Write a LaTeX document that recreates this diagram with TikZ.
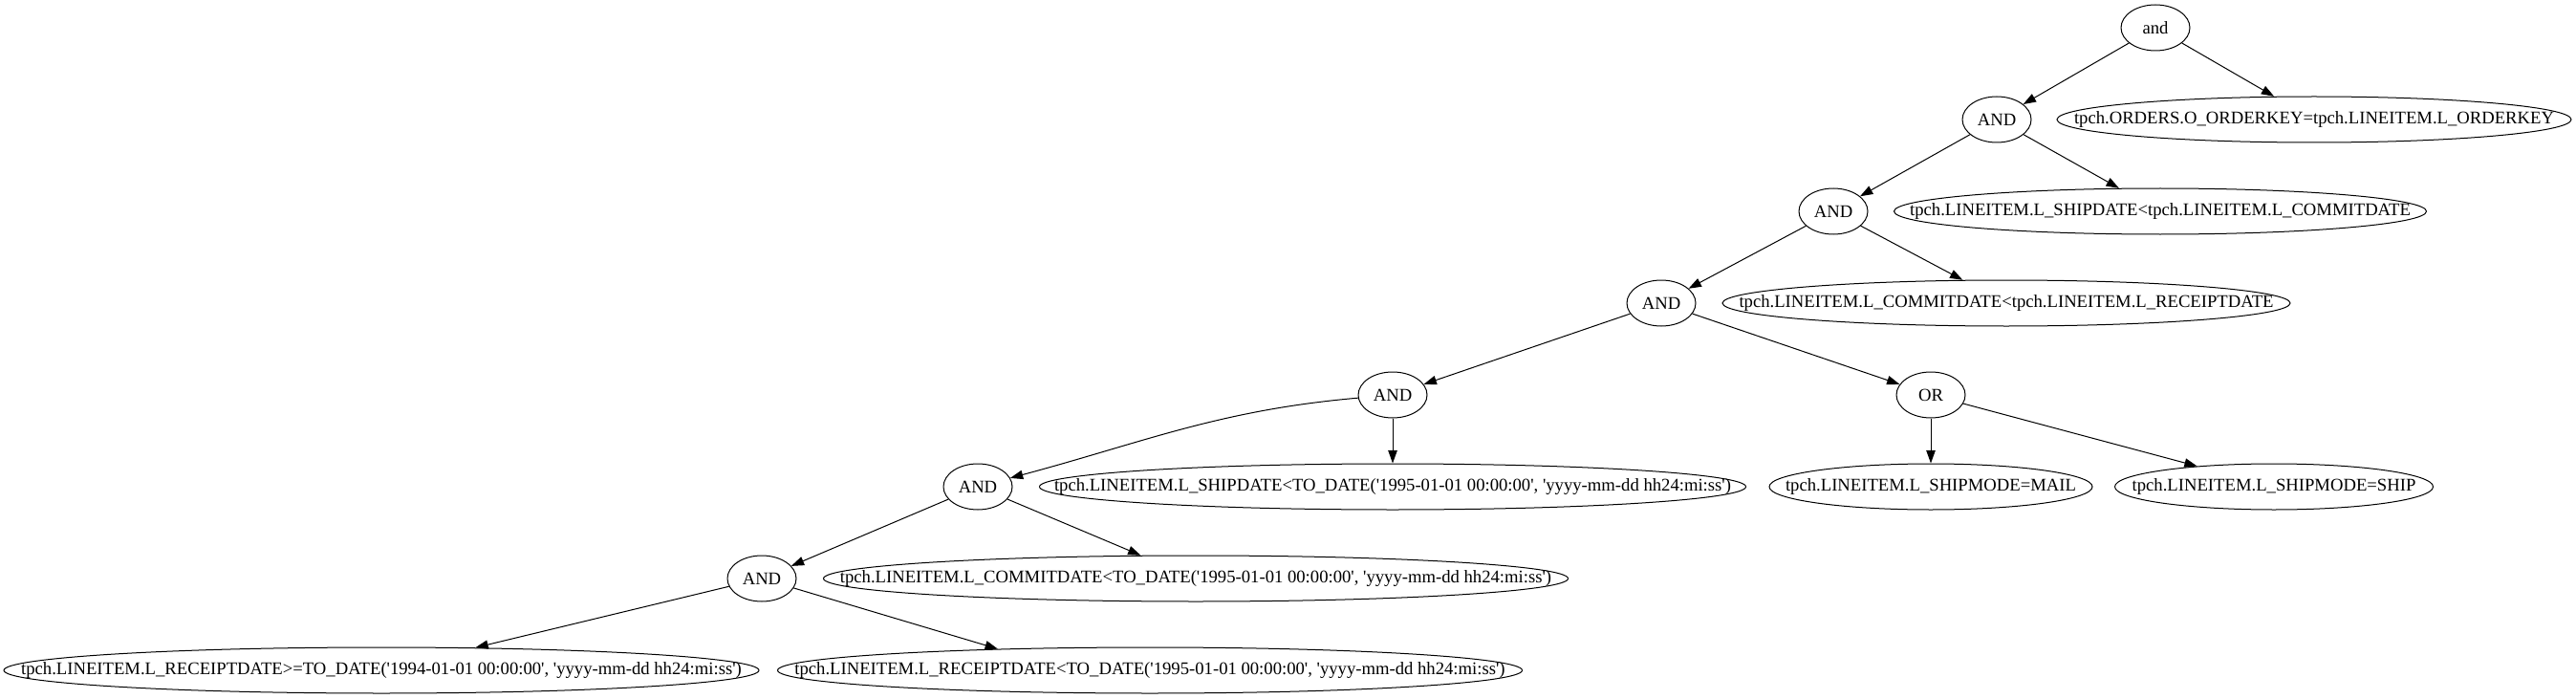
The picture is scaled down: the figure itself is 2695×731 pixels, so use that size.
\documentclass[tikz,border=0pt]{standalone}
\usepackage{fontspec}
\newfontfamily\dotfont{Liberation Serif}
\usetikzlibrary{shapes.geometric,arrows.meta}
\tikzset{
    op-node/.style = {draw, ellipse, line width=0.75pt, minimum width=54pt, minimum height=36pt, inner sep=0pt, font=\dotfont\fontsize{14}{16}\selectfont},
    leaf-node/.style = {op-node, minimum width={#1*0.75pt}, execute at begin node={\hbox to 0pt\bgroup\hss}, execute at end node={\hss\egroup}},
    edge-arrow/.style = {-{Triangle[length=10pt, width=7pt]}, line width=0.75pt},
}
\begin{document}
\begin{tikzpicture}[x=0.75pt, y=0.75pt]
\useasboundingbox (0,0) rectangle (2695,-731);
\node[op-node] (root) at (2255,-29) {and};
\node[op-node] (and1) at (2089,-125) {AND};
\node[leaf-node=538] (orderkey) at (2421,-125) {tpch.ORDERS.O\_ORDERKEY=tpch.LINEITEM.L\_ORDERKEY};
\node[op-node] (and2) at (1918,-221) {AND};
\node[leaf-node=557] (shipcommit) at (2260,-221) {tpch.LINEITEM.L\_SHIPDATE<tpch.LINEITEM.L\_COMMITDATE};
\node[op-node] (and3) at (1738,-317) {AND};
\node[leaf-node=594] (commitreceipt) at (2099,-317) {tpch.LINEITEM.L\_COMMITDATE<tpch.LINEITEM.L\_RECEIPTDATE};
\node[op-node] (and4) at (1457,-413) {AND};
\node[op-node] (or1) at (2020,-413) {OR};
\node[op-node] (and5) at (1023,-509) {AND};
\node[leaf-node=739] (shipto) at (1457,-509) {tpch.LINEITEM.L\_SHIPDATE<TO\_DATE('1995-01-01 00:00:00', 'yyyy-mm-dd hh24:mi:ss')};
\node[leaf-node=338] (shipmail) at (2020,-509) {tpch.LINEITEM.L\_SHIPMODE=MAIL};
\node[leaf-node=333] (shipship) at (2379,-509) {tpch.LINEITEM.L\_SHIPMODE=SHIP};
\node[op-node] (and6) at (797,-605) {AND};
\node[leaf-node=779] (committo) at (1251,-605) {tpch.LINEITEM.L\_COMMITDATE<TO\_DATE('1995-01-01 00:00:00', 'yyyy-mm-dd hh24:mi:ss')};
\node[leaf-node=790] (receiptge) at (399,-701) {tpch.LINEITEM.L\_RECEIPTDATE>=TO\_DATE('1994-01-01 00:00:00', 'yyyy-mm-dd hh24:mi:ss')};
\node[leaf-node=779] (receiptlt) at (1203,-701) {tpch.LINEITEM.L\_RECEIPTDATE<TO\_DATE('1995-01-01 00:00:00', 'yyyy-mm-dd hh24:mi:ss')};

\draw[edge-arrow] (root) -- (and1);
\draw[edge-arrow] (root) -- (orderkey);
\draw[edge-arrow] (and1) -- (and2);
\draw[edge-arrow] (and1) -- (shipcommit);
\draw[edge-arrow] (and2) -- (and3);
\draw[edge-arrow] (and2) -- (commitreceipt);
\draw[edge-arrow] (and3) -- (and4);
\draw[edge-arrow] (and3) -- (or1);
\draw[edge-arrow] (and4) to[out=185, in=15] (and5);
\draw[edge-arrow] (and4) -- (shipto);
\draw[edge-arrow] (or1) -- (shipmail);
\draw[edge-arrow] (or1) -- (shipship);
\draw[edge-arrow] (and5) -- (and6);
\draw[edge-arrow] (and5) -- (committo);
\draw[edge-arrow] (and6) -- (receiptge);
\draw[edge-arrow] (and6) -- (receiptlt.172);
\end{tikzpicture}
\end{document}
